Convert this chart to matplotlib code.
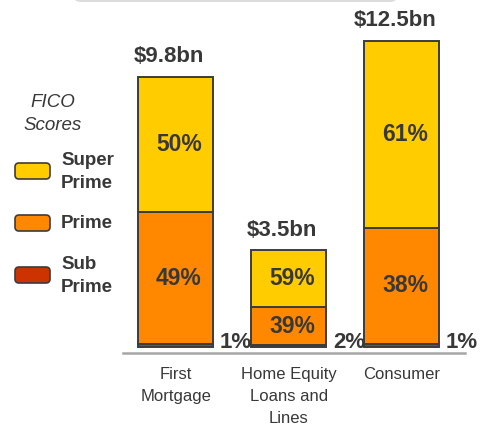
import matplotlib
matplotlib.use("Agg")
import matplotlib.pyplot as plt
from matplotlib.patches import FancyBboxPatch

categories = ["First\nMortgage", "Home Equity\nLoans and\nLines", "Consumer"]
totals = ["$9.8bn", "$3.5bn", "$12.5bn"]
# column heights as drawn in the slide (not strictly to scale)
bar_heights = [9.8, 3.5, 11.1]
super_prime = [50, 59, 61]
prime = [49, 39, 38]
sub_prime = [1, 2, 1]
legend_labels = ["Super\nPrime", "Prime", "Sub\nPrime"]

COLORS = ["#FFCC00", "#FF8800", "#CC3300"]
EDGE = "#3c3c3c"
TEXT = "#383838"

plt.rcParams["font.family"] = ["Liberation Sans", "DejaVu Sans"]

fig = plt.figure(figsize=(4.83, 4.28), dpi=100)
ax = fig.add_axes([123 / 483, 1 - 353 / 428, 342 / 483, 333 / 428])

x = range(len(categories))
width = 0.66
bottom = [0.0] * len(categories)
for shares, color in zip([sub_prime, prime, super_prime], COLORS[::-1]):
    seg = [h * s / 100 for h, s in zip(bar_heights, shares)]
    ax.bar(x, seg, width, bottom=bottom, color=color, edgecolor=EDGE, linewidth=1.4)
    if shares is not sub_prime:
        for i in x:
            ax.text(i + 0.03, bottom[i] + seg[i] / 2, f"{shares[i]}%", ha="center", va="center",
                    fontsize=16.5, fontweight="bold", color=TEXT)
    bottom = [b + s for b, s in zip(bottom, seg)]

for i in x:
    ax.annotate(totals[i], (i, bar_heights[i]), xytext=(-5, 7), textcoords="offset points",
                ha="center", va="bottom", fontsize=16, fontweight="bold", color=TEXT)
    ax.annotate(f"{sub_prime[i]}%", (i + width / 2, 0), xytext=(5, -4), textcoords="offset points",
                ha="left", va="bottom", fontsize=16, fontweight="bold", color=TEXT)

scale = 27.6
ax.set_xlim(-0.465, 2.56)
ax.set_ylim(-6 / scale, 327 / scale)
for side in ["top", "right", "left"]:
    ax.spines[side].set_visible(False)
ax.spines["bottom"].set_color("#a6a6a6")
ax.spines["bottom"].set_linewidth(1.8)
ax.set_yticks([])
ax.set_xticks(list(x))
ax.set_xticklabels(categories, fontsize=12, color=TEXT, linespacing=1.6, va="top")
ax.tick_params(axis="x", length=0, pad=10)

# legend drawn by hand on the left
fig.text(53 / 483, 1 - 114 / 428, "FICO\nScores", ha="center", va="center", fontsize=13.5,
         style="italic", color=TEXT, linespacing=1.4)
for label, color, yc in zip(legend_labels, COLORS, [171, 223, 275]):
    patch = FancyBboxPatch((15 / 100, (428 - yc - 8) / 100), 35 / 100, 16 / 100,
                           boxstyle="round,pad=0,rounding_size=0.04",
                           transform=fig.dpi_scale_trans, facecolor=color,
                           edgecolor=EDGE, linewidth=1.2)
    fig.add_artist(patch)
    fig.text(61 / 483, 1 - (yc + 1) / 428, label, ha="left", va="center", fontsize=13.5,
             fontweight="bold", color=TEXT, linespacing=1.4)

# bit of the grey title box peeking in at the top
band = FancyBboxPatch((0.73, 4.26), 3.25, 0.5, boxstyle="round,pad=0,rounding_size=0.08",
                      transform=fig.dpi_scale_trans, facecolor="#dcdcdc", edgecolor="none")
fig.add_artist(band)

fig.savefig("out.png", dpi=100)
